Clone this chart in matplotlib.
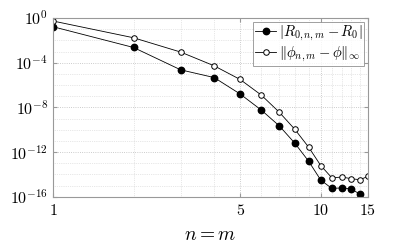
import numpy as np
import matplotlib
matplotlib.use("Agg")
import matplotlib.pyplot as plt
from matplotlib.ticker import FixedLocator, FixedFormatter, NullFormatter

plt.rcParams['mathtext.fontset'] = 'cm'
plt.rcParams['font.family'] = 'serif'
plt.rcParams['font.serif'] = ['DejaVu Serif']

# data (log10 of the errors)
n_R = [1, 2, 3, 4, 5, 6, 7, 8, 9, 10, 11, 12, 13, 14]
log_err_R = [-0.78, -2.64, -4.64, -5.33, -6.8, -8.24, -9.65, -11.2, -12.8,
             -14.5, -15.25, -15.2, -15.3, -15.76]
n_phi = [1, 2, 3, 4, 5, 6, 7, 8, 9, 10, 11, 12, 13, 14, 15]
log_err_phi = [-0.27, -1.77, -3.05, -4.28, -5.5, -6.9, -8.43, -9.96, -11.54,
               -13.2, -14.3, -14.23, -14.38, -14.47, -14.17]

err_R = 10.0 ** np.array(log_err_R)
err_phi = 10.0 ** np.array(log_err_phi)

fig = plt.figure(figsize=(4.07, 2.43), dpi=100)
ax = fig.add_axes([0.130, 0.19, 0.774, 0.736])

ax.loglog(n_R, err_R, '-o', color='k', lw=0.6, ms=4.6,
          mfc='k', mec='k', label=r'$|R_{0,n,m}-R_0|$')
ax.loglog(n_phi, err_phi, '-o', color='k', lw=0.6, ms=4.0,
          mfc='white', mec='k', mew=0.7,
          label=r'$\|\phi_{n,m}-\phi\|_\infty$')

ax.set_xlim(1, 15)
ax.set_ylim(1e-16, 1e0)

ax.xaxis.set_major_locator(FixedLocator([1, 5, 10, 15]))
ax.xaxis.set_major_formatter(FixedFormatter([r'$1$', r'$5$', r'$10$', r'$15$']))
ax.xaxis.set_minor_locator(FixedLocator(list(range(2, 15))))
ax.xaxis.set_minor_formatter(NullFormatter())

yt = [1e-16, 1e-12, 1e-8, 1e-4, 1e0]
ax.yaxis.set_major_locator(FixedLocator(yt))
ax.yaxis.set_major_formatter(FixedFormatter(
    [r'$10^{-16}$', r'$10^{-12}$', r'$10^{-8}$', r'$10^{-4}$', r'$10^{0}$']))
ax.yaxis.set_minor_locator(FixedLocator([10.0 ** k for k in range(-16, 1)]))
ax.yaxis.set_minor_formatter(NullFormatter())

ax.grid(True, which='major', ls=':', lw=0.6, color='#bbbbbb')
ax.grid(True, which='minor', ls=':', lw=0.5, color='#d0d0d0')

for s in ax.spines.values():
    s.set_color('#999999')
    s.set_linewidth(0.8)
ax.tick_params(which='both', direction='in', color='#999999', labelsize=11.5,
               top=True, right=True, length=3)
ax.tick_params(which='minor', length=0)

ax.set_xlabel(r'$n = m$', fontsize=14, labelpad=5)

leg = ax.legend(loc='upper right', fontsize=10.5, frameon=True, fancybox=False,
                edgecolor='#888888', borderpad=0.15, handlelength=1.4,
                handletextpad=0.2, labelspacing=0.15, borderaxespad=0.25)
leg.get_frame().set_linewidth(0.7)

fig.savefig('out.png', dpi=100)
